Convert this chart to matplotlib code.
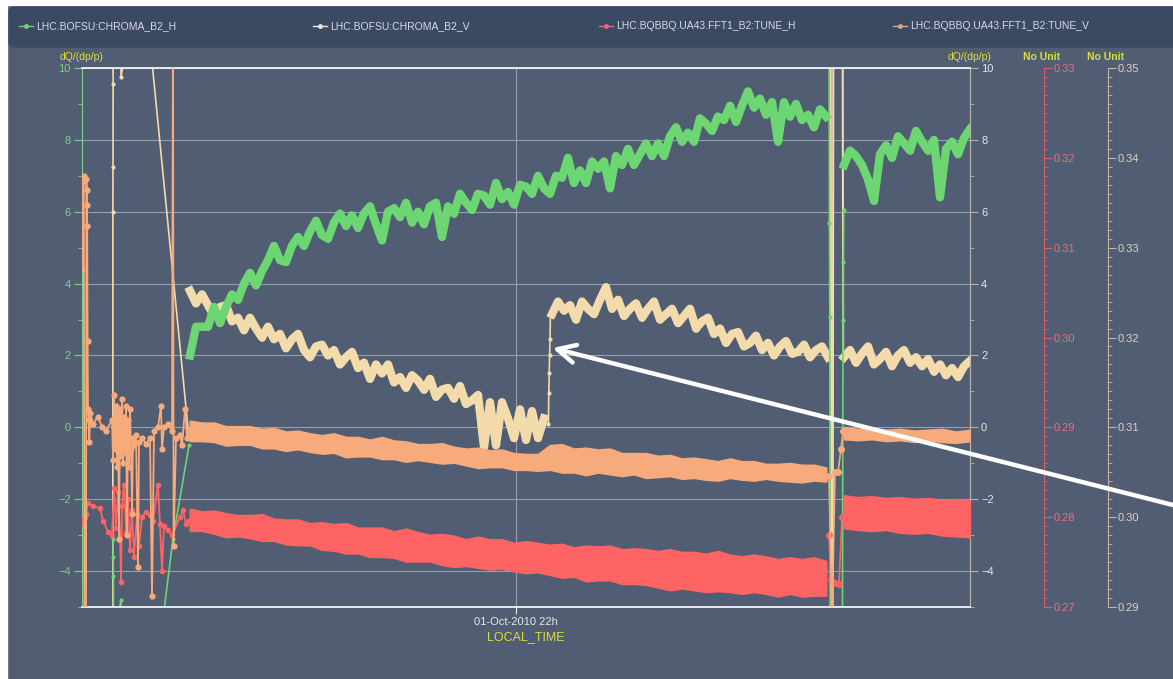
import numpy as np
import matplotlib.pyplot as plt
from matplotlib.lines import Line2D
from matplotlib.patches import Rectangle, FancyBboxPatch
from matplotlib.ticker import MultipleLocator, FormatStrFormatter

plt.rcParams['font.family'] = ['Liberation Sans', 'DejaVu Sans']

W, H = 1173, 679

BG = '#505d72'
PANEL = '#3c4962'
GREEN = '#6cd672'
CREAM = '#f3dbac'
RED = '#ff6464'
ORANGE = '#f7aa7c'
YELLOW = '#dede3a'
GRID = '#98a0ae'
RED_AX = '#d4606e'
TAN_AX = '#c8b4a4'

# time in minutes after 18:23 local time, 01-Oct-2010
t_range = (0, 444)
t_22h = 217

# ---- LHC.BOFSU:CHROMA_B2_H  (dQ/(dp/p))
gh_early_t = [15.5, 15.6, 15.7, 15.8, 19.5, 19.6, 39.0, 45.5, 53.5]
gh_early_v = [-3.1, -3.6, -4.15, -6.0, -4.8, -6.0, -6.0, -3.1, -0.5]
gh_main_t = np.arange(54, 373, 3)
gh_main_v = [2.0, 2.8, 2.8, 2.8, 3.35, 2.9, 3.35, 3.7, 3.55, 4.0,
             4.3, 3.95, 4.35, 4.65, 5.05, 4.65, 4.6, 5.05, 5.3, 5.05,
             5.45, 5.75, 5.35, 5.25, 5.7, 5.95, 5.6, 5.9, 5.55, 5.95,
             6.15, 5.65, 5.2, 6.0, 6.1, 5.85, 6.25, 5.7, 6.0, 5.65,
             6.15, 6.25, 5.3, 6.15, 5.95, 6.5, 6.25, 6.05, 6.5, 6.45,
             6.2, 6.8, 6.35, 6.55, 6.2, 6.75, 6.7, 6.5, 7.0, 6.65,
             6.5, 7.0, 6.95, 7.5, 6.8, 7.15, 6.8, 7.4, 7.2, 7.4,
             6.65, 7.55, 7.3, 7.75, 7.3, 7.6, 7.9, 7.55, 7.9, 7.55,
             8.1, 8.35, 7.95, 8.2, 7.95, 8.6, 8.45, 8.25, 8.65, 8.55,
             8.95, 8.5, 8.95, 9.35, 8.9, 9.15, 8.7, 9.05, 7.95, 9.05,
             8.65, 9.0, 8.55, 8.7, 8.35, 8.85, 8.65]
gh_gap_t = [373.5, 373.7, 373.9, 374.1, 380.2, 380.5, 380.7, 380.9]
gh_gap_v = [12.0, 5.7, 3.06, -6.0, -6.0, 3.0, 4.6, 6.06]
gh_late_t = np.arange(381, 445, 3)
gh_late_v = [7.3, 7.7, 7.55, 7.3, 6.9, 6.3, 7.6, 7.85, 7.5, 8.1, 7.9,
             7.7, 8.25, 7.95, 7.7, 8.0, 6.4, 7.75, 7.95, 7.6, 8.05, 8.3]

# ---- LHC.BOFSU:CHROMA_B2_V  (dQ/(dp/p))
cv_early_t = [15.4, 15.45, 15.5, 15.55, 15.6, 19.4, 19.5, 30.0, 53.5]
cv_early_v = [-6.0, 6.0, 7.25, 9.55, 12.0, 12.0, 9.75, 13.0, -0.3]
cv_a_t = np.arange(54, 232, 3)
cv_a_v = [3.8, 3.45, 3.7, 3.4, 3.1, 3.35, 3.4, 2.95, 3.05, 2.7,
          3.05, 2.75, 2.5, 2.8, 2.45, 2.6, 2.2, 2.45, 2.6, 2.15,
          1.95, 2.25, 2.3, 2.0, 2.15, 1.75, 1.95, 2.1, 1.65, 1.8,
          1.35, 1.75, 1.5, 1.75, 1.25, 1.4, 1.1, 1.45, 1.3, 1.05,
          1.35, 0.85, 1.05, 1.1, 0.8, 1.15, 0.65, 0.75, 0.9, -0.55,
          0.7, -0.5, 0.7, 0.25, -0.3, 0.5, -0.35, 0.45, -0.3, 0.25]
cv_jump_t = [233.2, 233.4, 233.6, 233.8, 234.0, 234.2]
cv_jump_v = [0.1, 0.95, 1.5, 2.0, 2.45, 3.15]
cv_b_t = np.arange(235, 374, 3)
cv_b_v = [3.15, 3.5, 3.25, 3.4, 3.0, 3.5, 3.3, 3.15, 3.55, 3.9,
          3.3, 3.55, 3.1, 3.3, 3.45, 3.05, 3.3, 3.5, 3.0, 3.15,
          3.3, 2.9, 3.1, 3.3, 2.75, 2.95, 3.05, 2.6, 2.75, 2.35,
          2.6, 2.65, 2.25, 2.35, 2.55, 2.15, 2.35, 2.0, 2.25, 2.4,
          2.05, 2.1, 2.3, 1.95, 2.15, 2.25, 1.95]
cv_gap_t = [374.3, 374.7, 375.3, 375.7, 380.3, 380.6]
cv_gap_v = [12.0, -6.0, -6.0, 12.0, 12.0, 2.1]
cv_c_t = np.arange(381, 445, 3)
cv_c_v = [1.95, 2.15, 1.8, 2.05, 2.25, 1.75, 1.9, 2.1, 1.7, 2.0, 2.15,
          1.8, 1.95, 1.7, 1.9, 1.55, 1.75, 1.45, 1.65, 1.4, 1.7, 1.85]

# ---- LHC.BQBBQ.UA43.FFT1_B2:TUNE_H  (tune, 0.27 - 0.33)
th_early_t = [0.3, 0.8, 1.3, 2.0, 3.0, 5.5, 9.0, 10.5, 13.0, 15.0,
              16.0, 17.0, 18.0, 19.0, 19.5, 20.0, 21.0, 22.0, 23.0, 24.0,
              25.0, 26.0, 27.5, 28.5, 30.0, 32.0, 34.0, 35.5, 38.0, 39.0,
              40.0, 41.0, 43.0, 45.0, 49.0, 50.5, 52.0, 53.0]
th_early_v = [0.2798, 0.2792, 0.2800, 0.2804, 0.2816, 0.2812, 0.2810, 0.2796, 0.2784, 0.2780,
              0.2832, 0.2788, 0.2828, 0.2780, 0.2728, 0.2812, 0.2836, 0.2784, 0.2820, 0.2764,
              0.2808, 0.2756, 0.2804, 0.2768, 0.2800, 0.2806, 0.2802, 0.2796, 0.2836, 0.2792,
              0.2740, 0.2790, 0.2786, 0.2780, 0.2800, 0.2808, 0.2792, 0.2796]
th_band_t = np.arange(54, 373, 6)
th_band_hi = [0.2809, 0.2806, 0.2807, 0.2804, 0.2802, 0.2802, 0.2803, 0.2798, 0.2797, 0.2797,
              0.2793, 0.2794, 0.2792, 0.2793, 0.2788, 0.2788, 0.2788, 0.2784, 0.2787, 0.2783,
              0.2780, 0.2781, 0.2779, 0.2775, 0.2778, 0.2775, 0.2775, 0.2771, 0.2773, 0.2771,
              0.2769, 0.2770, 0.2766, 0.2768, 0.2767, 0.2768, 0.2764, 0.2765, 0.2764, 0.2762,
              0.2764, 0.2761, 0.2761, 0.2759, 0.2762, 0.2758, 0.2756, 0.2758, 0.2756, 0.2753,
              0.2755, 0.2753, 0.2755, 0.2751]
th_band_lo = [0.2785, 0.2785, 0.2782, 0.2778, 0.2779, 0.2777, 0.2774, 0.2774, 0.2770, 0.2769,
              0.2769, 0.2764, 0.2763, 0.2760, 0.2760, 0.2756, 0.2756, 0.2755, 0.2751, 0.2751,
              0.2751, 0.2747, 0.2745, 0.2746, 0.2744, 0.2742, 0.2743, 0.2740, 0.2738, 0.2739,
              0.2736, 0.2733, 0.2734, 0.2729, 0.2730, 0.2730, 0.2726, 0.2726, 0.2725, 0.2722,
              0.2719, 0.2721, 0.2719, 0.2717, 0.2718, 0.2717, 0.2715, 0.2717, 0.2715, 0.2712,
              0.2715, 0.2712, 0.2713, 0.2713]
th_gap_t = [373.5, 374.5, 376.5, 378.5, 380.0]
th_gap_v = [0.2780, 0.2730, 0.2727, 0.2726, 0.2800]
th_late_t = np.arange(381, 445, 7)
th_late_hi = [0.2824, 0.2822, 0.2823, 0.2821, 0.2822, 0.2820, 0.2821, 0.2819, 0.2820, 0.2818]
th_late_lo = [0.2788, 0.2786, 0.2785, 0.2786, 0.2783, 0.2782, 0.2783, 0.2780, 0.2779, 0.2778]

# ---- LHC.BQBBQ.UA43.FFT1_B2:TUNE_V  (tune, 0.29 - 0.35)
tv_early_t = [0.0, 0.3, 0.6, 0.9, 1.2, 2.0, 2.2, 2.4, 2.5, 2.6,
              2.8, 3.0, 3.3, 3.6, 4.2, 5.5, 8.0, 10.0, 12.0, 15.0,
              15.5, 16.0, 16.5, 17.0, 17.5, 18.0, 18.5, 19.0, 19.5, 20.0,
              20.5, 21.0, 21.5, 22.0, 22.5, 23.0, 23.5, 24.0, 24.5, 25.0,
              25.5, 26.0, 27.0, 28.0, 28.5, 30.0, 32.0, 34.0, 35.0, 36.0,
              38.0, 39.5, 40.0, 41.0, 43.0, 45.0, 45.5, 45.8, 47.0, 49.0,
              50.0, 51.5, 52.5, 53.5]
tv_early_v = [0.3276, 0.3378, 0.3374, 0.3380, 0.2880, 0.2880, 0.3376, 0.3364, 0.3348, 0.3324,
              0.3196, 0.3120, 0.3108, 0.3084, 0.3116, 0.3104, 0.3112, 0.3100, 0.3096, 0.3108,
              0.3064, 0.3136, 0.3076, 0.3124, 0.3056, 0.3116, 0.2976, 0.3120, 0.3068, 0.3132,
              0.3060, 0.3112, 0.3072, 0.3124, 0.2980, 0.3108, 0.3056, 0.3120, 0.3076, 0.3004,
              0.3088, 0.3080, 0.3092, 0.2944, 0.3084, 0.3088, 0.3082, 0.3088, 0.2912, 0.3096,
              0.3100, 0.3124, 0.3076, 0.3100, 0.3104, 0.3096, 0.3580, 0.2968, 0.3088, 0.3092,
              0.3080, 0.3120, 0.3088, 0.3096]
tv_band_t = np.arange(54, 373, 6)
tv_band_hi = [0.3107, 0.3105, 0.3105, 0.3101, 0.3101, 0.3101, 0.3098, 0.3099, 0.3095, 0.3096,
              0.3093, 0.3091, 0.3093, 0.3089, 0.3089, 0.3086, 0.3089, 0.3085, 0.3084, 0.3081,
              0.3081, 0.3082, 0.3078, 0.3076, 0.3077, 0.3074, 0.3075, 0.3071, 0.3070, 0.3070,
              0.3080, 0.3081, 0.3076, 0.3077, 0.3075, 0.3076, 0.3071, 0.3071, 0.3071, 0.3068,
              0.3069, 0.3065, 0.3066, 0.3064, 0.3062, 0.3065, 0.3062, 0.3062, 0.3059, 0.3059,
              0.3060, 0.3058, 0.3058, 0.3055]
tv_band_lo = [0.3085, 0.3085, 0.3084, 0.3080, 0.3081, 0.3081, 0.3077, 0.3077, 0.3074, 0.3076,
              0.3073, 0.3071, 0.3072, 0.3067, 0.3068, 0.3068, 0.3065, 0.3065, 0.3062, 0.3064,
              0.3062, 0.3060, 0.3061, 0.3058, 0.3055, 0.3056, 0.3056, 0.3053, 0.3053, 0.3052,
              0.3053, 0.3050, 0.3050, 0.3047, 0.3050, 0.3048, 0.3046, 0.3048, 0.3044, 0.3045,
              0.3046, 0.3043, 0.3044, 0.3042, 0.3041, 0.3044, 0.3042, 0.3041, 0.3043, 0.3041,
              0.3040, 0.3039, 0.3041, 0.3040]
tv_gap_t = [373.5, 375.0, 376.5, 378.0, 379.5, 380.5]
tv_gap_v = [0.3046, 0.2880, 0.3050, 0.3050, 0.3076, 0.3096]
tv_late_t = np.arange(381, 445, 7)
tv_late_hi = [0.3100, 0.3098, 0.3099, 0.3097, 0.3098, 0.3096, 0.3097, 0.3098, 0.3095, 0.3097]
tv_late_lo = [0.3087, 0.3086, 0.3087, 0.3085, 0.3086, 0.3084, 0.3086, 0.3084, 0.3083, 0.3085]

legend_names = ['LHC.BOFSU:CHROMA_B2_H', 'LHC.BOFSU:CHROMA_B2_V',
                'LHC.BQBBQ.UA43.FFT1_B2:TUNE_H', 'LHC.BQBBQ.UA43.FFT1_B2:TUNE_V']
legend_cols = [GREEN, '#e8e4dc', '#e86a74', '#d9a888']
legend_x = [19, 313, 599, 893]

fig = plt.figure(figsize=(W / 100, H / 100), dpi=100, facecolor=BG)

# white frame top/left and the legend panel
fig.patches.append(Rectangle((0, 1 - 5 / H), 1, 5 / H, transform=fig.transFigure,
                             color='white', zorder=0))
fig.patches.append(Rectangle((0, 0), 7 / W, 1, transform=fig.transFigure,
                             color='white', zorder=0))
fig.patches.append(FancyBboxPatch((9 / W, 1 - 47 / H), 1.0, 40 / H,
                                  boxstyle='round,pad=0,rounding_size=0.006',
                                  transform=fig.transFigure, color=PANEL, zorder=1))
for name, col, x0 in zip(legend_names, legend_cols, legend_x):
    y = 1 - 26 / H
    fig.add_artist(Line2D([x0 / W, (x0 + 14) / W], [y, y], color=col, lw=1))
    fig.add_artist(Line2D([(x0 + 7) / W], [y], color=col, marker='o', ms=2.5, lw=0))
    fig.text((x0 + 17) / W, y, name, color='#d6dae2', fontsize=7.5, va='center')

ax = fig.add_axes([82 / W, 1 - 607 / H, 888 / W, 539 / H])
ax.patch.set_visible(False)
ax.set_xlim(*t_range)
ax.set_ylim(-5, 10)
ax.set_axisbelow(True)

ax.spines['left'].set_color('#7fd088')
ax.spines['right'].set_color('#b9b2a6')
ax.spines['top'].set_color('#f2f2f2')
ax.spines['bottom'].set_color('#f2f2f2')
ax.spines['top'].set_linewidth(1.3)
ax.spines['bottom'].set_linewidth(1.3)

ax.set_yticks([-4, -2, 0, 2, 4, 6, 8, 10])
ax.set_yticks([-5, -3, -1, 1, 3, 5, 7, 9], minor=True)
ax.tick_params(axis='y', which='both', colors='#7fd088', labelsize=8, pad=2)
ax.tick_params(axis='y', which='major', length=6)
ax.tick_params(axis='y', which='minor', length=3)
ax.set_xticks([t_22h])
ax.set_xticklabels(['01-Oct-2010 22h'])
ax.tick_params(axis='x', colors='#e8e8e8', labelsize=8, length=5, pad=2)
ax.set_xlabel('LOCAL_TIME', color=YELLOW, fontsize=9, labelpad=3)
ax.grid(True, which='major', color=GRID, lw=0.8)

sec = ax.secondary_yaxis('right')
sec.set_yticks([-4, -2, 0, 2, 4, 6, 8, 10])
sec.set_yticks([-5, -3, -1, 1, 3, 5, 7, 9], minor=True)
sec.spines['right'].set_color('#b9b2a6')
sec.tick_params(axis='y', which='both', colors='#b9b2a6', labelcolor='#e6e6e6',
                labelsize=8, pad=2)
sec.tick_params(axis='y', which='major', length=6)
sec.tick_params(axis='y', which='minor', length=3)

# chromaticity series
thin = dict(marker='o', ms=3, mew=0, lw=1.2)
band = dict(marker='o', ms=4.5, mew=0, lw=6, solid_joinstyle='round')
ax.plot(cv_early_t, cv_early_v, color=CREAM, **thin)
ax.plot(cv_a_t, cv_a_v, color=CREAM, **band)
ax.plot(cv_jump_t, cv_jump_v, color=CREAM, **thin)
ax.plot(cv_b_t, cv_b_v, color=CREAM, **band)
ax.plot(cv_gap_t, cv_gap_v, color=CREAM, lw=1.5)
ax.plot(cv_c_t, cv_c_v, color=CREAM, **band)

ax.plot(gh_early_t, gh_early_v, color=GREEN, **thin)
ax.plot(gh_main_t, gh_main_v, color=GREEN, **band)
ax.plot(gh_gap_t, gh_gap_v, color=GREEN, **thin)
ax.plot(gh_late_t, gh_late_v, color=GREEN, **band)


def extra_axis(pos, lim, col, lab_col):
    a = ax.twinx()
    a.set_ylim(*lim)
    for s in ('top', 'bottom', 'left'):
        a.spines[s].set_visible(False)
    a.spines['right'].set_position(('axes', pos))
    a.spines['right'].set_color(col)
    a.yaxis.set_major_locator(MultipleLocator(0.01))
    a.yaxis.set_minor_locator(MultipleLocator(0.001))
    a.yaxis.set_major_formatter(FormatStrFormatter('%.2f'))
    a.tick_params(axis='y', which='both', colors=col, labelcolor=lab_col,
                  labelsize=8, pad=1)
    a.tick_params(axis='y', which='major', length=6)
    a.tick_params(axis='y', which='minor', length=3)
    return a


ax_red = extra_axis((1044 - 82) / 888, (0.27, 0.33), RED_AX, '#e8707c')
ax_tan = extra_axis((1108 - 82) / 888, (0.29, 0.35), TAN_AX, '#e2d0c2')

# tune series
ax_red.fill_between(th_band_t, th_band_lo, th_band_hi, color=RED, lw=1.5, edgecolor=RED)
ax_red.fill_between(th_late_t, th_late_lo, th_late_hi, color=RED, lw=1.5, edgecolor=RED)
ax_red.plot(th_early_t, th_early_v, color=RED, lw=1.3, marker='o', ms=4, mew=0)
ax_red.plot(th_gap_t, th_gap_v, color=RED, lw=1.2, marker='o', ms=5, mew=0)

ax_tan.fill_between(tv_band_t, tv_band_lo, tv_band_hi, color=ORANGE, lw=1.5, edgecolor=ORANGE)
ax_tan.fill_between(tv_late_t, tv_late_lo, tv_late_hi, color=ORANGE, lw=1.5, edgecolor=ORANGE)
ax_tan.plot(tv_early_t, tv_early_v, color=ORANGE, lw=1.3, marker='o', ms=4.5, mew=0)
ax_tan.plot(tv_gap_t, tv_gap_v, color=ORANGE, lw=1.2, marker='o', ms=5, mew=0)

# axis titles
fig.text(82 / W, 1 - 57 / H, 'dQ/(dp/p)', color=YELLOW, fontsize=7.5, ha='center', va='center')
fig.text(970 / W, 1 - 57 / H, 'dQ/(dp/p)', color=YELLOW, fontsize=7.5, ha='center', va='center')
fig.text(1042 / W, 1 - 57 / H, 'No Unit', color=YELLOW, fontsize=7.5, ha='center',
         va='center', fontweight='bold')
fig.text(1106 / W, 1 - 57 / H, 'No Unit', color=YELLOW, fontsize=7.5, ha='center',
         va='center', fontweight='bold')

# arrow marking the jump of the vertical chromaticity
target = ((cv_jump_t[3] + cv_jump_t[4]) / 2, (cv_jump_v[3] + cv_jump_v[4]) / 2)
ann = ax_tan.annotate('', xy=target, xycoords=ax.transData,
                      xytext=(1.0, 1 - 505 / H), textcoords='figure fraction',
                      arrowprops=dict(arrowstyle='->,head_length=1.3,head_width=0.65',
                                      color='white', lw=3.2, shrinkA=0, shrinkB=2),
                      annotation_clip=False)
ann.set_zorder(10)

fig.savefig('out.png', dpi=100, facecolor=fig.get_facecolor())
